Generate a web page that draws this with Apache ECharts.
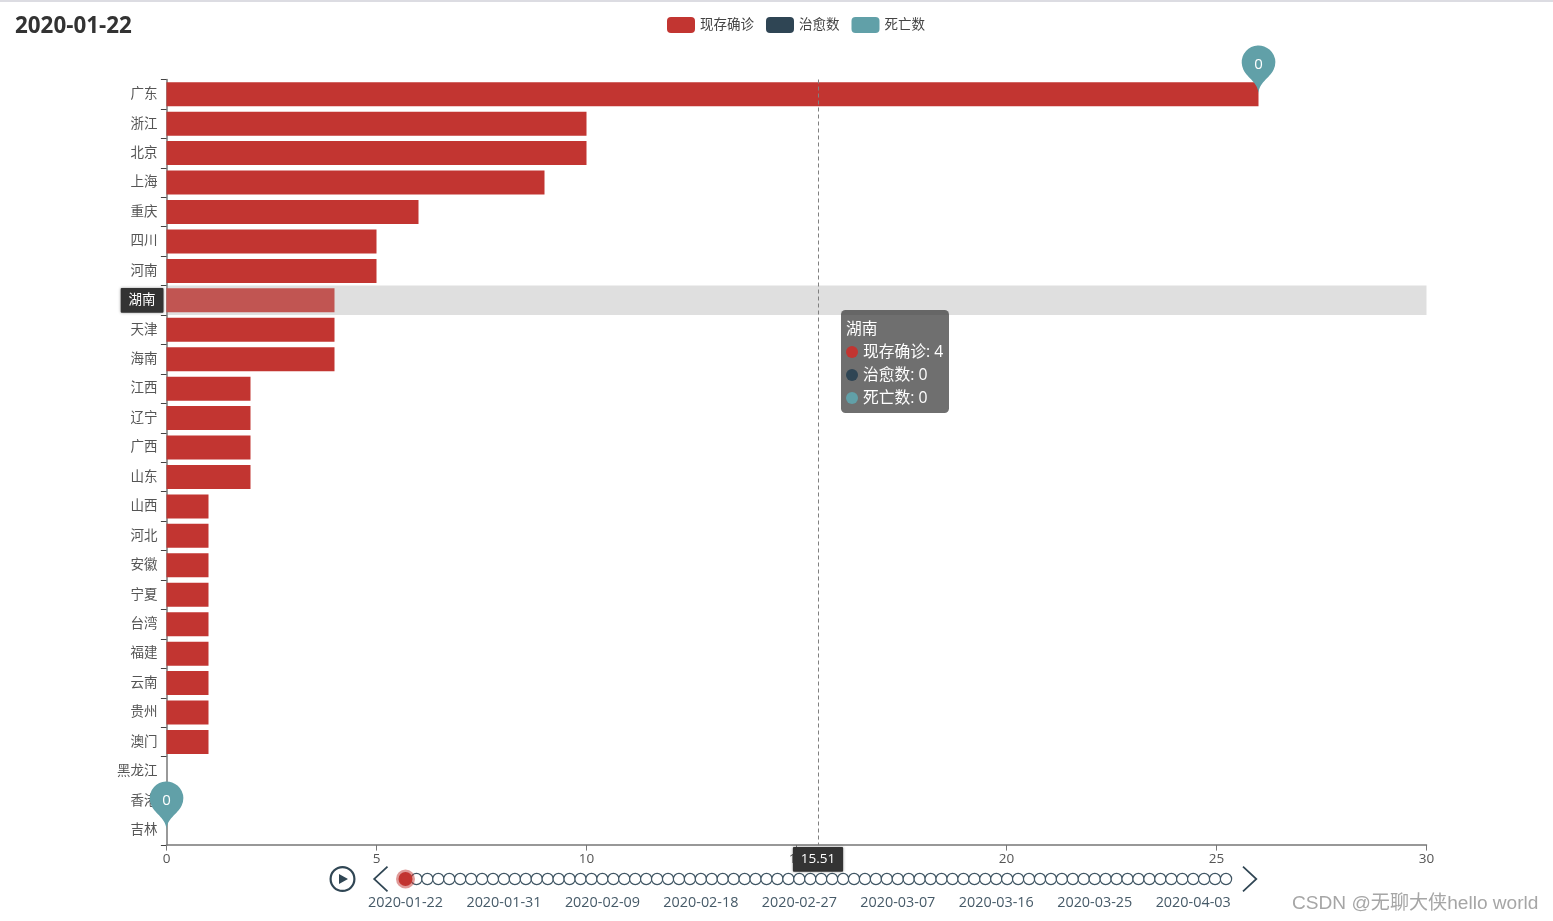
<!DOCTYPE html>
<html><head><meta charset="utf-8">
<style>html,body{margin:0;padding:0;background:#fff;overflow:hidden}#c{width:1553px;height:921px}</style>
<script src="https://cdn.jsdelivr.net/npm/echarts@6/dist/echarts.min.js"></script>
</head><body><div id="c"></div>
<script>
const FONT = '"Open Sans","Noto Sans CJK SC",sans-serif';
const provinces = ['广东','浙江','北京','上海','重庆','四川','河南','湖南','天津','海南','江西','辽宁','广西','山东','山西','河北','安徽','宁夏','台湾','福建','云南','贵州','澳门','黑龙江','香港','吉林'];
const active = [26,10,10,9,6,5,5,4,4,4,2,2,2,2,1,1,1,1,1,1,1,1,1,0,0,0];
const cured = [0,0,0,0,0,0,0,0,0,0,0,0,0,0,0,0,0,0,0,0,0,0,0,0,0,0];
const dead = [0,0,0,0,0,0,0,0,0,0,0,0,0,0,0,0,0,0,0,0,0,0,0,0,0,0];
const dates = ['2020-01-22','2020-01-23','2020-01-24','2020-01-25','2020-01-26','2020-01-27','2020-01-28','2020-01-29','2020-01-30','2020-01-31',
'2020-02-01','2020-02-02','2020-02-03','2020-02-04','2020-02-05','2020-02-06','2020-02-07','2020-02-08','2020-02-09','2020-02-10',
'2020-02-11','2020-02-12','2020-02-13','2020-02-14','2020-02-15','2020-02-16','2020-02-17','2020-02-18','2020-02-19','2020-02-20',
'2020-02-21','2020-02-22','2020-02-23','2020-02-24','2020-02-25','2020-02-26','2020-02-27','2020-02-28','2020-02-29','2020-03-01',
'2020-03-02','2020-03-03','2020-03-04','2020-03-05','2020-03-06','2020-03-07','2020-03-08','2020-03-09','2020-03-10','2020-03-11',
'2020-03-12','2020-03-13','2020-03-14','2020-03-15','2020-03-16','2020-03-17','2020-03-18','2020-03-19','2020-03-20','2020-03-21',
'2020-03-22','2020-03-23','2020-03-24','2020-03-25','2020-03-26','2020-03-27','2020-03-28','2020-03-29','2020-03-30','2020-03-31',
'2020-04-01','2020-04-02','2020-04-03','2020-04-04','2020-04-05','2020-04-06'];
const seriesNames = ['现存确诊','治愈数','死亡数'];
const colors = ['#c23531','#2f4554','#61a0a8'];
const lastProvince = provinces[provinces.length - 1];

const playIcon = 'path://M13,0 A13,13 0 1,1 13,26 A13,13 0 1,1 13,0 Z M13,2.2 A10.8,10.8 0 1,0 13,23.8 A10.8,10.8 0 1,0 13,2.2 Z M9.5,8 L18.5,13 L9.5,18 Z';
const stopIcon = playIcon;
const prevIcon = 'path://M14,0 L0,13 L14,26 L15.2,24.8 L2.6,13 L15.2,1.2 Z';
const nextIcon = 'path://M1.2,0 L15.2,13 L1.2,26 L0,24.8 L12.6,13 L0,1.2 Z';

const chart = echarts.init(document.getElementById('c'));
const axisColor = '#777';
const tlLabel = {color: '#465a68', fontSize: 14.4, fontFamily: FONT};
chart.setOption({
  baseOption: {
    animation: false,
    color: colors,
    textStyle: {fontFamily: FONT},
    timeline: {
      axisType: 'category', data: dates, currentIndex: 0, autoPlay: false,
      left: 329.5, right: 289, bottom: 15, height: 40, padding: 0,
      symbol: 'emptyCircle', symbolSize: 11.25,
      lineStyle: {show: true, color: '#304654', width: 1},
      itemStyle: {color: '#fff', borderColor: '#3f5563', borderWidth: 1.2},
      checkpointStyle: {color: '#c23531', borderColor: 'rgba(194,53,49,0.5)', borderWidth: 5, symbol: 'circle', symbolSize: 14, animation: false},
      label: Object.assign({interval: 8, position: 17}, tlLabel),
      progress: {lineStyle: {color: '#304654'}, itemStyle: {color: '#fff', borderColor: '#3f5563'}, label: tlLabel},
      controlStyle: {show: true, showPlayBtn: true, itemSize: 27, itemGap: 11, prevBtnSize: 26, nextBtnSize: 26, playBtnSize: 26, color: '#304654', borderColor: '#304654', borderWidth: 0,
        playIcon, stopIcon, prevIcon, nextIcon},
      emphasis: {label: tlLabel}
    },
    title: {left: 15, top: 15, padding: 0, textStyle: {fontSize: 22.4, fontWeight: 'bold', color: '#333', fontFamily: FONT}},
    legend: {data: seriesNames, top: 17, left: 667, itemWidth: 28, itemHeight: 16, itemGap: 12, padding: 0,
      textStyle: {fontSize: 13.5, color: '#444', fontFamily: FONT}},
    tooltip: {
      trigger: 'axis', transitionDuration: 0,
      position: pt => [pt[0] + 23, pt[1] + 20],
      backgroundColor: 'rgba(50,50,50,0.7)', borderWidth: 0, padding: [7, 6, 4, 5],
      textStyle: {color: '#fff', fontSize: 15.75, fontFamily: FONT},
      extraCssText: 'box-shadow:none;border-radius:4.5px;',
      formatter: ps => '<div style="line-height:23px">' + ps[0].name + '<br>' + ps.map(p =>
        '<span style="display:inline-block;margin-right:5px;border-radius:50%;width:12px;height:12px;background:' + p.color + ';vertical-align:-1px"></span>' + p.seriesName + ': ' + p.value).join('<br>') + '</div>',
      axisPointer: {type: 'cross'}
    },
    grid: {left: 166.5, right: 126.5, top: 79.5, bottom: 76, containLabel: false},
    xAxis: {type: 'value', min: 0, max: 30, interval: 5, splitLine: {show: false},
      axisLine: {show: true, lineStyle: {color: axisColor, width: 1.5}},
      axisTick: {show: true, length: 5.6, lineStyle: {color: axisColor}},
      axisLabel: {fontSize: 13.5, color: '#555', margin: 7, fontFamily: FONT},
      axisPointer: {type: 'line', lineStyle: {type: [4, 3], color: '#808080', width: 1},
        label: {show: true, backgroundColor: '#333', color: '#fff', fontSize: 13.5, padding: [5.6, 7.9], margin: 2, borderRadius: 1, fontFamily: FONT, shadowBlur: 3, shadowColor: 'rgba(0,0,0,.4)'}}},
    yAxis: {type: 'category', inverse: true, data: provinces, splitLine: {show: false},
      axisLine: {show: true, lineStyle: {color: axisColor, width: 1.5}},
      axisTick: {show: true, length: 5.6, alignWithLabel: false, lineStyle: {color: '#444'}},
      axisLabel: {fontSize: 13.5, color: '#555', margin: 9, interval: 0, fontFamily: FONT},
      axisPointer: {type: 'shadow', shadowStyle: {color: 'rgba(150,150,150,0.3)'},
        label: {show: true, backgroundColor: '#333', color: '#fff', fontSize: 13.5, padding: [5.6, 7.9], margin: 3, borderRadius: 1, fontFamily: FONT, shadowBlur: 3, shadowColor: 'rgba(0,0,0,.4)'}}},
    series: [
      {name: seriesNames[0], type: 'bar', stack: 'a', barWidth: 24},
      {name: seriesNames[1], type: 'bar', stack: 'a', barWidth: 24},
      {name: seriesNames[2], type: 'bar', stack: 'a', barWidth: 24,
       markPoint: {symbol: 'pin', symbolSize: 56, itemStyle: {color: colors[2]},
         label: {color: '#fff', fontSize: 15, fontFamily: FONT},
         data: [{type: 'max', valueDim: 'x'}, {coord: [0, lastProvince], value: dead[dead.length - 1]}]}}
    ],
    graphic: [
      {type: 'rect', left: 0, top: 0, shape: {width: 1553, height: 2}, style: {fill: '#dcdce2'}, silent: true},
      {type: 'text', left: 1292, top: 894, silent: true,
       style: {text: 'CSDN @无聊大侠hello world', fill: '#a6a6a6', fontSize: 19.1, fontFamily: '"Liberation Sans","Noto Sans CJK SC",sans-serif'}}
    ]
  },
  options: [{
    title: {text: dates[0]},
    series: [{data: active}, {data: cured}, {data: dead}]
  }]
});
chart.dispatchAction({type: 'showTip', x: 818, y: 290});
</script></body></html>
